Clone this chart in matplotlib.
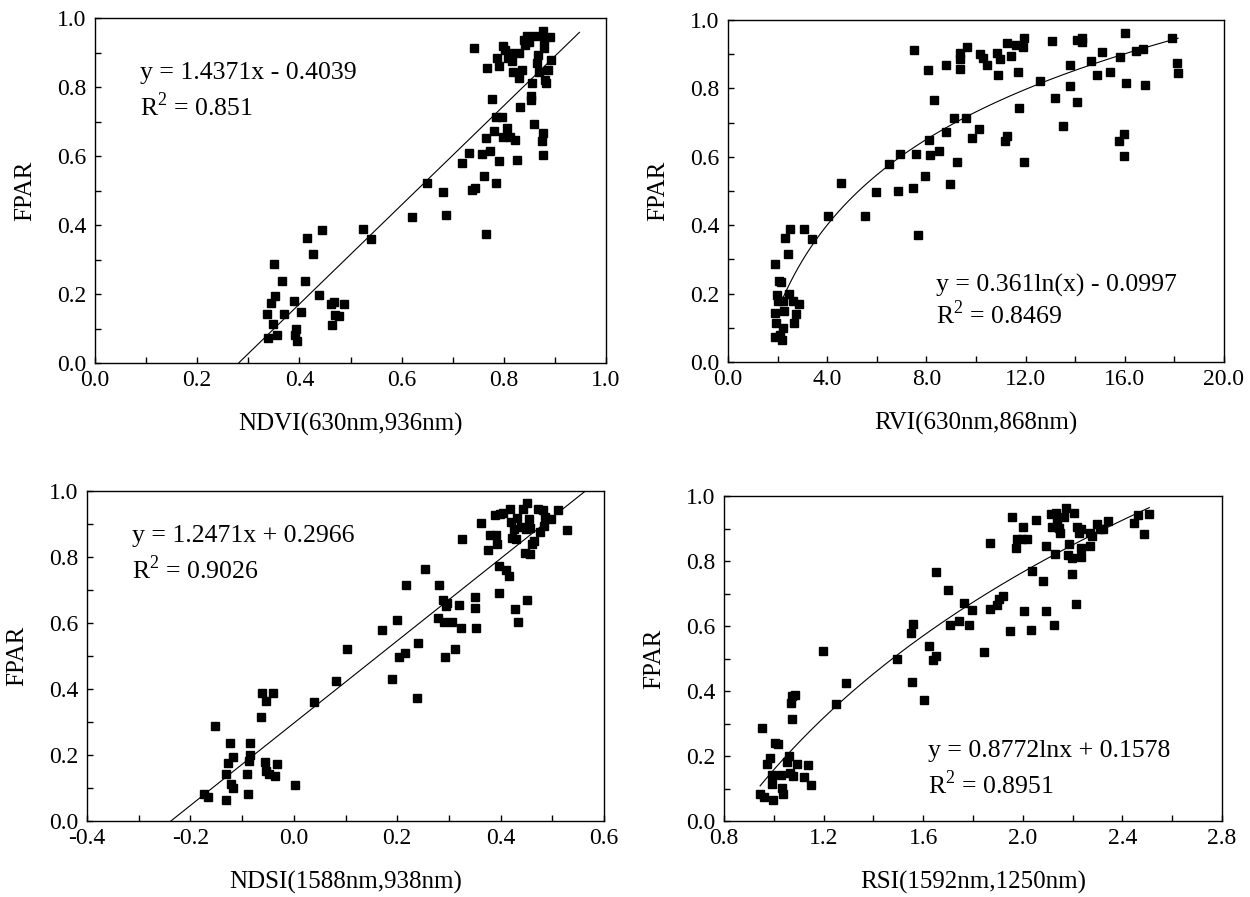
import numpy as np
import matplotlib
matplotlib.use('Agg')
import matplotlib.pyplot as plt
from matplotlib.ticker import MultipleLocator, FormatStrFormatter

plt.rcParams['font.family'] = ['Liberation Serif', 'DejaVu Serif']
plt.rcParams['mathtext.fontset'] = 'custom'
plt.rcParams['mathtext.rm'] = 'Liberation Serif'
plt.rcParams['axes.unicode_minus'] = False

# NDVI(630nm,936nm) vs FPAR
ndvi_x = [0.336, 0.339, 0.345, 0.350, 0.352, 0.349, 0.357, 0.366, 0.370, 0.390,
          0.391, 0.393, 0.395, 0.404, 0.411, 0.415, 0.427, 0.439, 0.444, 0.461,
          0.464, 0.468, 0.470, 0.478, 0.487, 0.525, 0.540, 0.620, 0.649, 0.681,
          0.686, 0.719, 0.732, 0.737, 0.743, 0.741, 0.757, 0.761, 0.765, 0.766,
          0.767, 0.773, 0.777, 0.780, 0.784, 0.785, 0.790, 0.787, 0.791, 0.796,
          0.798, 0.799, 0.802, 0.807, 0.812, 0.815, 0.816, 0.818, 0.822, 0.826,
          0.829, 0.830, 0.831, 0.836, 0.840, 0.845, 0.841, 0.853, 0.854, 0.856,
          0.859, 0.862, 0.864, 0.867, 0.869, 0.874, 0.876, 0.877, 0.877, 0.879,
          0.880, 0.883, 0.887, 0.891, 0.892, 0.879, 0.808, 0.850]
ndvi_y = [0.141, 0.073, 0.174, 0.287, 0.195, 0.114, 0.080, 0.237, 0.141, 0.179,
          0.082, 0.099, 0.063, 0.148, 0.237, 0.363, 0.316, 0.198, 0.385, 0.172,
          0.111, 0.177, 0.138, 0.136, 0.170, 0.388, 0.359, 0.424, 0.523, 0.497,
          0.428, 0.581, 0.608, 0.501, 0.508, 0.913, 0.605, 0.541, 0.373, 0.651,
          0.855, 0.616, 0.766, 0.672, 0.714, 0.521, 0.587, 0.884, 0.860, 0.714,
          0.654, 0.918, 0.908, 0.682, 0.656, 0.898, 0.874, 0.845, 0.647, 0.589,
          0.898, 0.826, 0.742, 0.850, 0.937, 0.948, 0.923, 0.763, 0.773, 0.811,
          0.692, 0.947, 0.869, 0.894, 0.845, 0.643, 0.603, 0.961, 0.666, 0.913,
          0.821, 0.813, 0.850, 0.945, 0.879, 0.937, 0.885, 0.930]

# RVI(630nm,868nm) vs FPAR
rvi_x = [1.89, 1.89, 1.94, 1.89, 1.97, 2.02, 2.05, 2.13, 2.10, 2.16,
         2.21, 2.21, 2.26, 2.29, 2.41, 2.45, 2.50, 2.62, 2.66, 2.74,
         2.86, 3.08, 3.37, 4.04, 4.55, 5.52, 5.97, 6.49, 6.85, 6.94,
         7.46, 7.51, 7.59, 7.65, 7.94, 8.07, 8.10, 8.14, 8.30, 8.52,
         8.80, 8.80, 8.94, 9.10, 9.23, 9.36, 9.36, 9.36, 9.59, 9.64,
         9.85, 10.12, 10.17, 10.28, 10.44, 10.85, 10.88, 10.96, 11.17, 11.25,
         11.25, 11.41, 11.62, 11.69, 11.74, 11.90, 11.93, 11.95, 12.59, 13.08,
         13.19, 13.51, 13.79, 13.79, 14.08, 14.08, 14.28, 14.28, 14.64, 14.88,
         15.08, 15.40, 15.77, 15.82, 15.98, 15.98, 16.01, 16.05, 16.46, 16.74,
         16.82, 17.92, 18.11, 18.14]
rvi_y = [0.287, 0.142, 0.115, 0.072, 0.196, 0.178, 0.237, 0.235, 0.080, 0.063,
         0.100, 0.178, 0.149, 0.364, 0.317, 0.199, 0.388, 0.178, 0.115, 0.139,
         0.171, 0.389, 0.360, 0.426, 0.524, 0.428, 0.497, 0.579, 0.500, 0.609,
         0.508, 0.912, 0.607, 0.372, 0.543, 0.855, 0.650, 0.605, 0.767, 0.616,
         0.868, 0.672, 0.520, 0.713, 0.586, 0.903, 0.885, 0.856, 0.713, 0.922,
         0.654, 0.681, 0.901, 0.888, 0.869, 0.903, 0.839, 0.885, 0.647, 0.661,
         0.934, 0.895, 0.928, 0.849, 0.742, 0.922, 0.946, 0.586, 0.822, 0.940,
         0.771, 0.690, 0.867, 0.807, 0.942, 0.761, 0.946, 0.937, 0.881, 0.839,
         0.905, 0.847, 0.645, 0.891, 0.667, 0.603, 0.963, 0.817, 0.908, 0.914,
         0.810, 0.946, 0.875, 0.846]

# NDSI(1588nm,938nm) vs FPAR
ndsi_x = [-0.173, -0.166, -0.152, -0.132, -0.132, -0.127, -0.123, -0.122, -0.118, -0.117,
          -0.090, -0.088, -0.087, -0.084, -0.084, -0.063, -0.061, -0.056, -0.054, -0.054,
          -0.048, -0.040, -0.036, -0.033, 0.003, 0.039, 0.082, 0.103, 0.171, 0.189,
          0.199, 0.204, 0.215, 0.217, 0.240, 0.239, 0.254, 0.279, 0.281, 0.289,
          0.291, 0.292, 0.295, 0.297, 0.306, 0.312, 0.320, 0.324, 0.325, 0.350,
          0.350, 0.353, 0.363, 0.376, 0.380, 0.391, 0.393, 0.397, 0.397, 0.411,
          0.416, 0.390, 0.399, 0.405, 0.418, 0.420, 0.422, 0.426, 0.428, 0.430,
          0.432, 0.434, 0.440, 0.443, 0.447, 0.449, 0.451, 0.452, 0.455, 0.457,
          0.457, 0.461, 0.465, 0.472, 0.476, 0.482, 0.484, 0.486, 0.498, 0.511,
          0.529]
ndsi_y = [0.081, 0.073, 0.288, 0.064, 0.141, 0.175, 0.237, 0.113, 0.194, 0.101,
          0.141, 0.083, 0.182, 0.235, 0.200, 0.315, 0.387, 0.180, 0.364, 0.152,
          0.141, 0.387, 0.136, 0.172, 0.109, 0.361, 0.424, 0.522, 0.579, 0.429,
          0.608, 0.498, 0.508, 0.714, 0.540, 0.374, 0.765, 0.614, 0.714, 0.669,
          0.604, 0.497, 0.652, 0.662, 0.604, 0.520, 0.655, 0.586, 0.856, 0.680,
          0.646, 0.586, 0.904, 0.821, 0.867, 0.867, 0.838, 0.773, 0.692, 0.760,
          0.742, 0.926, 0.929, 0.934, 0.946, 0.907, 0.857, 0.886, 0.643, 0.854,
          0.917, 0.603, 0.891, 0.944, 0.813, 0.884, 0.965, 0.669, 0.914, 0.810,
          0.889, 0.838, 0.848, 0.947, 0.877, 0.941, 0.894, 0.922, 0.916, 0.941,
          0.881]

# RSI(1592nm,1250nm) vs FPAR
rsi_x = [0.945, 0.953, 0.962, 0.973, 0.986, 0.993, 0.994, 0.998, 1.006, 1.017,
         1.030, 1.033, 1.038, 1.054, 1.062, 1.067, 1.070, 1.075, 1.075, 1.078,
         1.086, 1.094, 1.123, 1.137, 1.150, 1.198, 1.251, 1.290, 1.496, 1.549,
         1.555, 1.560, 1.603, 1.624, 1.640, 1.651, 1.653, 1.701, 1.709, 1.745,
         1.764, 1.785, 1.796, 1.846, 1.868, 1.868, 1.897, 1.905, 1.921, 1.949,
         1.957, 1.973, 1.978, 1.998, 2.002, 2.005, 2.018, 2.034, 2.037, 2.055,
         2.082, 2.095, 2.095, 2.114, 2.119, 2.125, 2.130, 2.133, 2.138, 2.146,
         2.151, 2.167, 2.175, 2.182, 2.186, 2.199, 2.199, 2.206, 2.214, 2.218,
         2.226, 2.234, 2.234, 2.234, 2.271, 2.271, 2.279, 2.299, 2.312, 2.323,
         2.344, 2.447, 2.463, 2.487, 2.508]
rsi_y = [0.082, 0.287, 0.074, 0.174, 0.194, 0.113, 0.141, 0.064, 0.241, 0.237,
         0.143, 0.102, 0.082, 0.181, 0.200, 0.148, 0.363, 0.315, 0.384, 0.138,
         0.389, 0.174, 0.136, 0.171, 0.110, 0.522, 0.360, 0.425, 0.499, 0.578,
         0.428, 0.607, 0.372, 0.539, 0.496, 0.507, 0.766, 0.711, 0.604, 0.614,
         0.670, 0.604, 0.650, 0.519, 0.857, 0.653, 0.665, 0.683, 0.693, 0.585,
         0.934, 0.839, 0.867, 0.868, 0.904, 0.645, 0.868, 0.589, 0.770, 0.926,
         0.740, 0.847, 0.645, 0.945, 0.906, 0.604, 0.821, 0.949, 0.926, 0.903,
         0.885, 0.937, 0.962, 0.819, 0.853, 0.809, 0.759, 0.947, 0.668, 0.906,
         0.885, 0.839, 0.811, 0.898, 0.846, 0.887, 0.877, 0.913, 0.898, 0.898,
         0.923, 0.916, 0.942, 0.882, 0.945]

fs = 17

fig = plt.figure(figsize=(12.5, 8.97), dpi=100)
ax1 = fig.add_axes([0.076, 0.5953, 0.4088, 0.3846])
ax2 = fig.add_axes([0.5824, 0.5964, 0.3968, 0.3813])
ax3 = fig.add_axes([0.0696, 0.0847, 0.4136, 0.3679])
ax4 = fig.add_axes([0.5792, 0.0847, 0.3984, 0.3623])

# fitted curves
xf1 = np.linspace(0.281, 0.948, 50)
yf1 = 1.4371 * xf1 - 0.4039
xf2 = np.linspace(2.2, 18.15, 200)
yf2 = 0.361 * np.log(xf2) - 0.0997
xf3 = np.linspace(-0.238, 0.564, 50)
yf3 = 1.2471 * xf3 + 0.2966
xf4 = np.linspace(0.945, 2.508, 200)
yf4 = 0.8772 * np.log(xf4) + 0.1578

panels = [
    [ax1, ndvi_x, ndvi_y, xf1, yf1, 'NDVI(630nm,936nm)', (0.0, 1.0), 0.2, 0.1,
     'y = 1.4371x - 0.4039', r'R$^{2}$ = 0.851', 0.088, 0.842, 0.742],
    [ax2, rvi_x, rvi_y, xf2, yf2, 'RVI(630nm,868nm)', (0.0, 20.0), 4.0, 2.0,
     'y = 0.361ln(x) - 0.0997', r'R$^{2}$ = 0.8469', 8.39, 0.223, 0.138],
    [ax3, ndsi_x, ndsi_y, xf3, yf3, 'NDSI(1588nm,938nm)', (-0.4, 0.6), 0.2, 0.1,
     'y = 1.2471x + 0.2966', r'R$^{2}$ = 0.9026', -0.313, 0.864, 0.763],
    [ax4, rsi_x, rsi_y, xf4, yf4, 'RSI(1592nm,1250nm)', (0.8, 2.8), 0.4, 0.2,
     'y = 0.8772lnx + 0.1578', r'R$^{2}$ = 0.8951', 1.619, 0.215, 0.113],
]

for p in panels:
    ax, x, y, xf, yf, xlab, xlim, major, minor, eq, r2, tx, ty1, ty2 = p
    ax.plot(x, y, 's', color='black', markersize=6, zorder=3)
    ax.plot(xf, yf, '-', color='black', linewidth=0.8)
    ax.set_xlim(xlim)
    ax.set_ylim(0.0, 1.0)
    ax.xaxis.set_major_locator(MultipleLocator(major))
    ax.xaxis.set_minor_locator(MultipleLocator(minor))
    ax.yaxis.set_major_locator(MultipleLocator(0.2))
    ax.yaxis.set_minor_locator(MultipleLocator(0.1))
    ax.xaxis.set_major_formatter(FormatStrFormatter('%.1f'))
    ax.yaxis.set_major_formatter(FormatStrFormatter('%.1f'))
    ax.tick_params(which='both', direction='in', length=4, width=1,
                   top=False, right=False, labelsize=fs)
    ax.tick_params(axis='x', pad=5)
    ax.tick_params(axis='y', pad=6)
    for s in ax.spines.values():
        s.set_linewidth(1.0)
    ax.set_xlabel(xlab, fontsize=18, labelpad=16)
    ax.set_ylabel('FPAR', fontsize=18, labelpad=15)
    ax.text(tx, ty1, eq, fontsize=18.5, va='center', ha='left')
    ax.text(tx, ty2, r2, fontsize=18.5, va='center', ha='left')

fig.savefig('out.png', dpi=100)
